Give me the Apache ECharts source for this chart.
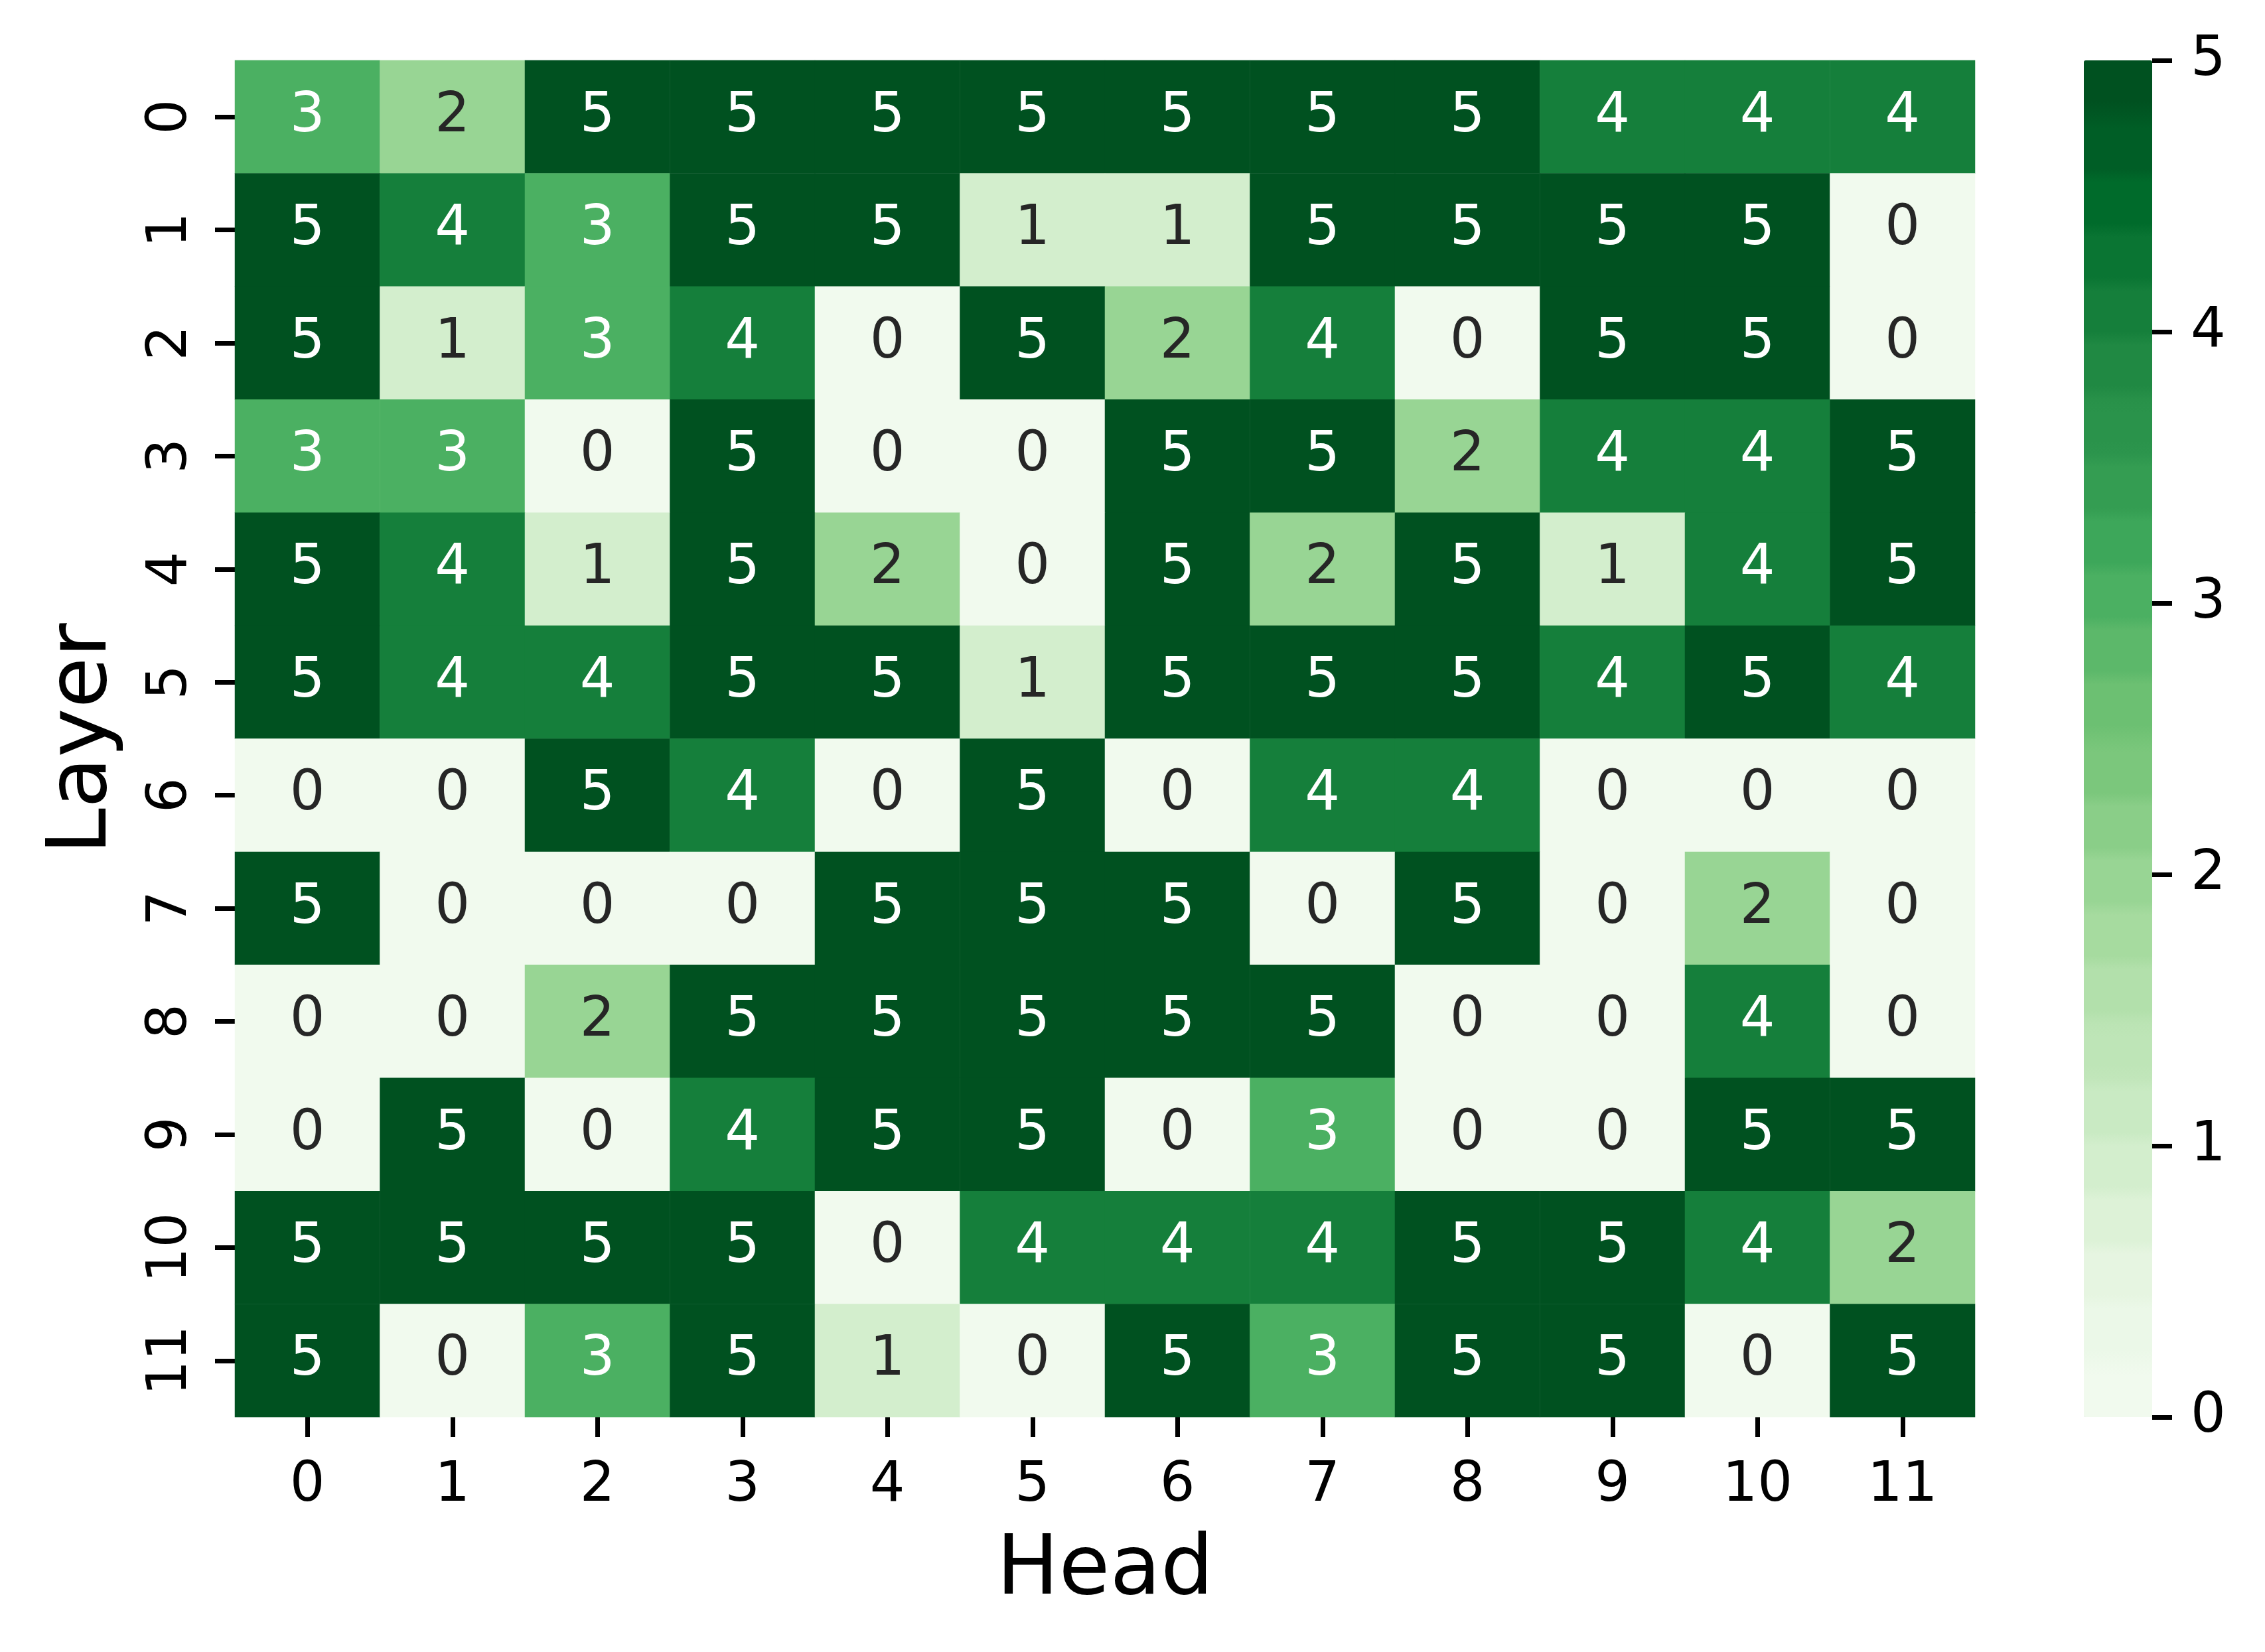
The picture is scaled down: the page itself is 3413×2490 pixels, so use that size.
<!DOCTYPE html>
<html>
<head>
<meta charset="utf-8">
<script src="https://cdn.jsdelivr.net/npm/echarts@6/dist/echarts.min.js"></script>
<style>html,body{margin:0;padding:0;background:#fff;}#c{width:3413px;height:2490px;}</style>
</head>
<body>
<div id="c"></div>
<script>
// ---- data ----
const heads = ['0','1','2','3','4','5','6','7','8','9','10','11'];
const layers = ['0','1','2','3','4','5','6','7','8','9','10','11'];
const row0  = [3,2,5,5,5,5,5,5,5,4,4,4];
const row1  = [5,4,3,5,5,1,1,5,5,5,5,0];
const row2  = [5,1,3,4,0,5,2,4,0,5,5,0];
const row3  = [3,3,0,5,0,0,5,5,2,4,4,5];
const row4  = [5,4,1,5,2,0,5,2,5,1,4,5];
const row5  = [5,4,4,5,5,1,5,5,5,4,5,4];
const row6  = [0,0,5,4,0,5,0,4,4,0,0,0];
const row7  = [5,0,0,0,5,5,5,0,5,0,2,0];
const row8  = [0,0,2,5,5,5,5,5,0,0,4,0];
const row9  = [0,5,0,4,5,5,0,3,0,0,5,5];
const row10 = [5,5,5,5,0,4,4,4,5,5,4,2];
const row11 = [5,0,3,5,1,0,5,3,5,5,0,5];
const colorbarTicks = [0,1,2,3,4,5];

const rows = [row0,row1,row2,row3,row4,row5,row6,row7,row8,row9,row10,row11];

// ---- Greens colormap, 24 discrete bins (seaborn palette sampling) ----
const greens = ['#f7fcf5','#e5f5e0','#c7e9c0','#a1d99b','#74c476','#41ab5d','#238b45','#006d2c','#00441b'];
function hex(c){return [parseInt(c.slice(1,3),16),parseInt(c.slice(3,5),16),parseInt(c.slice(5,7),16)];}
function cmap(t){
  const s = t*(greens.length-1); const i = Math.min(Math.floor(s), greens.length-2); const f = s-i;
  const a = hex(greens[i]), b = hex(greens[i+1]);
  const r = a.map((v,k)=>Math.round(v+(b[k]-v)*f));
  return 'rgb('+r.join(',')+')';
}
const NB = 24, REP = 12;
const binColors = [];
for (let i=0;i<NB;i++) binColors.push(cmap((i+1)/(NB+1)));
const vmColors = [];
binColors.forEach(c=>{for(let k=0;k<REP;k++) vmColors.push(c);});

const data = [];
rows.forEach((r,yi)=>r.forEach((v,xi)=>{
  data.push({value:[xi,yi,v], label:{color: v>=3 ? '#ffffff' : '#262626'}});
}));

const FONT = 'DejaVu Sans';
const chart = echarts.init(document.getElementById('c'), null, {renderer:'canvas'});
chart.setOption({
  backgroundColor:'#ffffff',
  animation:false,
  grid:[
    {left:354, top:91, width:2622, height:2045},
    {left:3243, top:91, width:30, height:2045}
  ],
  xAxis:[
    {type:'category', data:heads, gridIndex:0, position:'bottom',
     axisLine:{show:false}, splitLine:{show:false},
     axisTick:{show:true, alignWithLabel:true, length:30, lineStyle:{color:'#000', width:7}},
     axisLabel:{fontFamily:FONT, fontSize:83, color:'#000', margin:63},
     name:'Head', nameLocation:'middle', nameGap:171,
     nameTextStyle:{fontFamily:FONT, fontSize:125, color:'#000'}},
    {type:'value', gridIndex:1, show:false, min:0, max:1}
  ],
  yAxis:[
    {type:'category', data:layers, gridIndex:0, inverse:true,
     axisLine:{show:false}, splitLine:{show:false},
     axisTick:{show:true, alignWithLabel:true, length:30, lineStyle:{color:'#000', width:7}},
     axisLabel:{fontFamily:FONT, fontSize:83, color:'#000', margin:54, rotate:90},
     name:'Layer', nameLocation:'middle', nameGap:165,
     nameTextStyle:{fontFamily:FONT, fontSize:125, color:'#000'}},
    {type:'value', gridIndex:1, position:'left', min:0, max:5, interval:1, z:10,
     axisLine:{show:false}, splitLine:{show:false},
     axisTick:{show:true, inside:true, length:30, lineStyle:{color:'#000', width:7}},
     axisLabel:{inside:true, fontFamily:FONT, fontSize:83, color:'#000', margin:58,
       formatter:function(v){return colorbarTicks.indexOf(v)>=0 ? String(v) : '';}}}
  ],
  visualMap:{
    type:'continuous', min:0, max:5, seriesIndex:0, calculable:false,
    orient:'vertical', left:3140, top:91, itemWidth:103, itemHeight:2045,
    padding:0, showLabel:false, text:null, hoverLink:false,
    inRange:{color:vmColors}
  },
  series:[
    {type:'heatmap', xAxisIndex:0, yAxisIndex:0, data:data,
     label:{show:true, fontFamily:FONT, fontSize:83,
       formatter:function(p){return String(p.value[2]);}},
     itemStyle:{borderWidth:0},
     emphasis:{disabled:true}},
    {type:'scatter', xAxisIndex:1, yAxisIndex:1, data:[], silent:true}
  ]
});
</script>
</body>
</html>
